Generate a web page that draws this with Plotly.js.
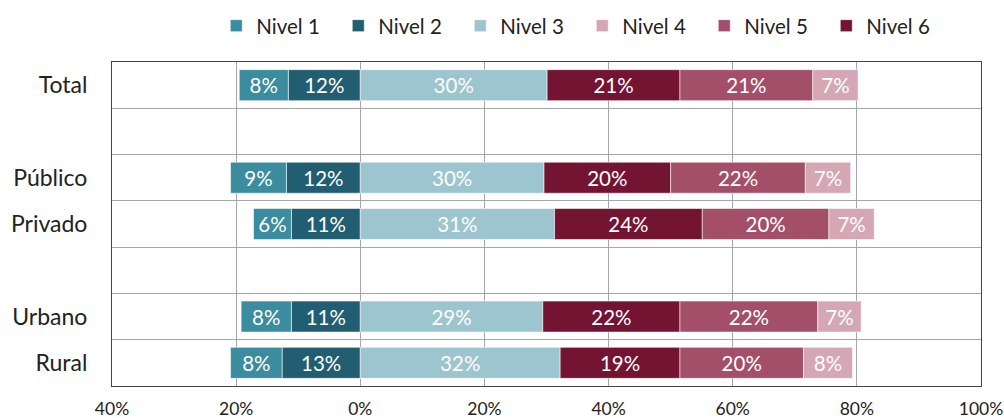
<!DOCTYPE html>
<html>
<head>
<meta charset="utf-8">
<script src="https://cdn.plot.ly/plotly-3.0.1.min.js"></script>
<style>
  html, body { margin: 0; padding: 0; background: #fff; }
  #chart { width: 1004px; height: 418px; }
</style>
</head>
<body>
<div id="chart"></div>
<script>
// rows, top to bottom (blank rows are the gaps in the original)
var categories = ["Total", " ", "Público", "Privado", "  ", "Urbano", "Rural"];

// shares in %, left side (Nivel 1, 2) is plotted as negative
var nivel1 = [7.9, null, 9.0, 6.1, null, 8.1, 8.3];
var nivel2 = [11.6, null, 11.9, 11.1, null, 11.1, 12.6];
var nivel3 = [30.1, null, 29.6, 31.3, null, 29.4, 32.2];
var nivel4 = [7.3, null, 7.3, 7.3, null, 7.0, 7.9];
var nivel5 = [21.4, null, 21.7, 20.4, null, 22.2, 19.9];
var nivel6 = [21.4, null, 20.4, 23.8, null, 22.1, 19.3];

var tickVals = [-40, -20, 0, 20, 40, 60, 80, 100];
var tickText = ["40%", "20%", "0%", "20%", "40%", "60%", "80%", "100%"];

var colors = {
  n1: "#3a8c9e",
  n2: "#215e71",
  n3: "#9dc5cf",
  n4: "#d5a7b5",
  n5: "#a34f69",
  n6: "#731432"
};

var fontFamily = "Lato, 'Open Sans', sans-serif";

function makeTrace(name, values, color, negative, rank) {
  return {
    type: "bar",
    orientation: "h",
    name: name,
    y: categories,
    x: values.map(function (v) { return v === null ? null : (negative ? -v : v); }),
    text: values.map(function (v) { return v === null ? "" : Math.round(v) + "%"; }),
    textposition: "inside",
    insidetextanchor: "middle",
    textangle: 0,
    constraintext: "none",
    textfont: { color: "#ffffff", size: 20.5, family: fontFamily },
    marker: { color: color, line: { color: "rgba(255,255,255,0.55)", width: 1 } },
    legendrank: rank,
    hoverinfo: "name+text"
  };
}

// order matters for stacking: closest to zero first
var data = [
  makeTrace("Nivel 2", nivel2, colors.n2, true, 2),
  makeTrace("Nivel 1", nivel1, colors.n1, true, 1),
  makeTrace("Nivel 3", nivel3, colors.n3, false, 3),
  makeTrace("Nivel 6", nivel6, colors.n6, false, 6),
  makeTrace("Nivel 5", nivel5, colors.n5, false, 5),
  makeTrace("Nivel 4", nivel4, colors.n4, false, 4)
];

var layout = {
  width: 1004,
  height: 418,
  margin: { l: 112, r: 23, t: 62, b: 32, autoexpand: false },
  paper_bgcolor: "#ffffff",
  plot_bgcolor: "#ffffff",
  barmode: "relative",
  bargap: 0.33,
  font: { family: fontFamily, color: "#222" },
  uniformtext: { minsize: 19, mode: "show" },
  showlegend: true,
  legend: {
    orientation: "h",
    x: 0.12,
    xanchor: "left",
    y: 1.05,
    yanchor: "bottom",
    bgcolor: "rgba(0,0,0,0)",
    font: { size: 20.5, color: "#222" },
    entrywidth: 77,
    itemwidth: 30,
    tracegroupgap: 0
  },
  xaxis: {
    range: [-40, 100],
    tickvals: tickVals,
    ticktext: tickText,
    tickfont: { size: 17.5, color: "#222" },
    ticklabelstandoff: 7,
    showgrid: true,
    gridcolor: "#a6a6a6",
    gridwidth: 1,
    zeroline: true,
    zerolinecolor: "#a6a6a6",
    zerolinewidth: 1,
    showline: true,
    linecolor: "#444",
    linewidth: 1,
    mirror: true,
    ticks: "",
    fixedrange: true
  },
  yaxis: {
    type: "category",
    categoryorder: "array",
    categoryarray: categories,
    autorange: "reversed",
    tickson: "boundaries",
    showgrid: true,
    gridcolor: "#a6a6a6",
    gridwidth: 1,
    showline: true,
    linecolor: "#444",
    linewidth: 1,
    mirror: true,
    ticks: "",
    ticklabelstandoff: 19,
    tickfont: { size: 23, color: "#222" },
    fixedrange: true
  }
};

Plotly.newPlot("chart", data, layout, { displayModeBar: false, staticPlot: true });
</script>
</body>
</html>
